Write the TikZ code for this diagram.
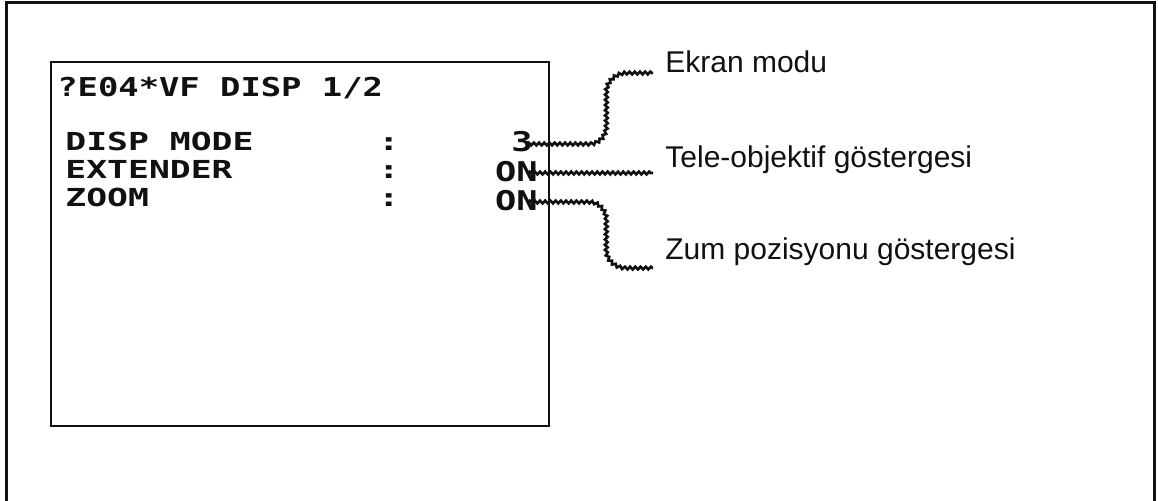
\documentclass[tikz,border=0pt]{standalone}
\usepackage{fontspec}
\usetikzlibrary{decorations.pathmorphing}
\setmainfont{Liberation Sans}
\newfontfamily\osdfont[FakeStretch=1.3]{DejaVu Sans Mono}
\newfontfamily\osdwide[FakeStretch=1.4]{DejaVu Sans Mono}
\definecolor{ink}{HTML}{111111}

\tikzset{
  osdline/.style={anchor=base west, inner sep=0pt, text=ink, font=\osdwide\bfseries\fontsize{12.4}{14}\selectfont},
  osdvalue/.style={anchor=base east, inner sep=0pt, text=ink, font=\osdfont\bfseries\fontsize{13.6}{15}\selectfont},
  calllabel/.style={anchor=base west, inner sep=0pt, text=ink, font=\fontsize{15}{18}\selectfont},
  wavyline/.style={ink, line width=1.3pt, decorate, decoration={snake, amplitude=0.7pt, segment length=2.6pt}}
}

\begin{document}
\begin{tikzpicture}[x=0.5pt, y=-0.5pt]
  \useasboundingbox (0,0) rectangle (1158,501);
  % Outer frame (open at the bottom)
  \draw[ink, line width=1.5pt] (6,501) -- (6,3) -- (1154,3) -- (1154,501);
  % Viewfinder screen
  \draw[ink, line width=1pt] (51,62) rectangle (549,426);
  % Menu page
  \node[osdline, font=\osdfont\bfseries\fontsize{13}{15}\selectfont] (title) at (57,97) {?E04*VF DISP 1/2};
  \node[osdline] (dispmode) at (65,151) {DISP MODE};
  \node[osdline] (extender) at (65,179) {EXTENDER};
  \node[osdline] (zoom) at (65,207) {ZOOM};
  \foreach \y in {151,179,207}
    \node[osdline] (colon\y) at (378,\y) {:};
  % Current settings
  \node[osdvalue] (dispval) at (533,152) {3};
  \node[osdvalue] (extval) at (538,182) {ON};
  \node[osdvalue] (zoomval) at (538,211) {ON};
  % Callout texts
  \node[calllabel] (ekran) at (665,73) {Ekran modu};
  \node[calllabel] (tele) at (665,168) {Tele-objektif göstergesi};
  \node[calllabel] (zum) at (665,260) {Zum pozisyonu göstergesi};
  % Wavy leaders
  \draw[wavyline] ([xshift=-3pt,yshift=4pt]dispval.base east) -- (588,144)
    to[out=0,in=-90] (605,126) -- (605,92) to[out=90,in=180] (625,73)
    -- ([xshift=-6pt]ekran.base west);
  \draw[wavyline] ([xshift=-5pt,yshift=4.5pt]extval.base east)
    -- ([xshift=-6pt,yshift=-2.5pt]tele.base west);
  \draw[wavyline] ([xshift=-5pt,yshift=4.5pt]zoomval.base east) -- (588,202)
    to[out=0,in=90] (605,220) -- (605,250) to[out=-90,in=180] (625,268)
    -- ([xshift=-6pt,yshift=-4pt]zum.base west);
\end{tikzpicture}
\end{document}
